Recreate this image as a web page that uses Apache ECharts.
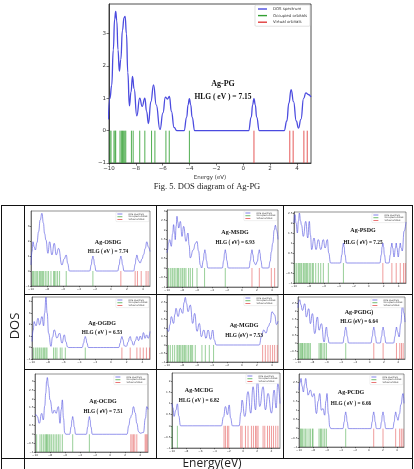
<!DOCTYPE html>
<html>
<head>
<meta charset="utf-8">
<script src="https://cdn.jsdelivr.net/npm/echarts@6/dist/echarts.min.js"></script>
<style>
html, body { margin: 0; padding: 0; background: #fff; }
#chart { width: 414px; height: 469px; }
</style>
</head>
<body>
<div id="chart"></div>
<script>
// labels
var panelNames = ['Ag-PG', 'Ag-OSDG', 'Ag-MSDG', 'Ag-PSDG', 'Ag-OGDG', 'Ag-MGDG', 'Ag-PGDG)', 'Ag-OCDG', 'Ag-MCDG', 'Ag-PCDG'];
var hlgLabels = ['HLG ( eV ) = 7.15', 'HLG ( eV ) = 7.74', 'HLG ( eV) = 6.93', 'HLG ( eV) = 7.25', 'HLG ( eV ) = 6.53',
    'HLG (eV) = 7.53', 'HLG (eV) = 6.64', 'HLG ( eV) = 7.51', 'HLG ( eV ) = 6.82', 'HLG ( eV ) = 6.66'];
var legendNames = ['DOS spectrum', 'Occupied orbitals', 'Virtual orbitals'];
var figCaption = 'Fig. 5. DOS diagram of Ag-PG';

// Ag-PG (big chart)
var dosPG = [[-10.05,0.35],[-9.93,1.0],[-9.8,1.4],[-9.68,2.5],[-9.58,3.45],[-9.5,3.69],[-9.42,3.4],[-9.33,2.5],[-9.23,1.84],[-9.12,2.2],[-9.0,3.1],[-8.88,3.5],[-8.8,3.54],[-8.7,3.0],[-8.6,1.8],[-8.48,0.77],[-8.36,1.2],[-8.25,1.68],[-8.13,1.3],[-7.93,0.46],[-7.71,1.01],[-7.53,0.75],[-7.33,1.01],[-7.2,0.6],[-7.06,0.22],[-6.88,0.9],[-6.68,1.42],[-6.48,0.8],[-6.2,0.03],[-5.98,0.55],[-5.8,1.04],[-5.65,0.98],[-5.5,1.06],[-5.35,0.6],[-5.15,0.1],[-4.95,0],
    [-4.41,0],[-4.21,0.42],[-4.11,0.8],[-4.01,0.99],[-3.91,0.8],[-3.81,0.42],[-3.61,0],
    [0.4,0],[0.6,0.42],[0.7,0.8],[0.8,0.99],[0.9,0.8],[1.0,0.42],[1.2,0],
    [3.05,0],[3.25,0.3],[3.4,0.85],[3.57,1.27],[3.75,0.9],[3.95,0.3],[4.12,0.08],[4.3,0.35],[4.5,1.0],[4.67,1.17],[4.85,1.12],[5.05,1.04]];
var occPG = [-9.93,-9.85,-9.63,-9.55,-9.5,-9.18,-9.08,-9.0,-8.93,-8.83,-8.75,-8.33,-8.2,-7.71,-7.33,-6.83,-6.58,-5.76,-5.51,-4.01];
var virPG = [0.8,3.47,3.72,4.52,4.77];

// Ag-OSDG
var dosOSDG = [[-10,0.4],[-9.87,1.3],[-9.75,1.95],[-9.6,1.6],[-9.46,1.4],[-9.25,1.9],[-9.05,2.62],[-8.85,3.4],[-8.63,3.85],[-8.45,3.2],[-8.3,2.5],[-8.13,2.07],[-7.88,1.18],[-7.67,1.95],[-7.38,1.07],[-7.09,1.85],[-6.84,1.07],[-6.55,1.51],[-6.13,0.4],[-5.85,0.8],[-5.59,1.07],[-5.4,0.5],[-5.2,0],
    [-2.65,0],[-2.45,0.42],[-2.35,0.8],[-2.25,1.0],[-2.15,0.8],[-2.05,0.42],[-1.85,0],
    [0.85,0],[1.05,0.42],[1.15,0.8],[1.25,1.0],[1.35,0.8],[1.45,0.42],[1.65,0],
    [2.85,0],[3.05,0.45],[3.15,0.85],[3.25,1.07],[3.45,0.7],[3.66,0.53],[3.9,0.8],[4.1,1.1],[4.3,1.5],[4.5,1.95],[4.7,1.6],[4.9,1.3]];
var occOSDG = [-9.8,-9.67,-9.5,-9.34,-9.17,-8.96,-8.84,-8.71,-8.55,-8.42,-8.21,-8.0,-7.8,-7.5,-7.17,-7.05,-6.88,-6.67,-6.42,-5.59,-2.25];
var virOSDG = [1.25,3.04,3.33,3.8,4.41,4.66];

// Ag-MSDG
var dosMSDG = [[-10,0.8],[-9.92,0.96],[-9.8,1.3],[-9.65,1.49],[-9.43,1.14],[-9.25,1.8],[-9.12,2.28],[-9.0,1.9],[-8.9,1.49],[-8.78,2.2],[-8.67,2.72],[-8.55,2.4],[-8.45,2.1],[-8.22,2.45],[-8.0,1.66],[-7.78,2.19],[-7.47,1.4],[-7.2,1.84],[-7.05,1.2],[-6.9,0.53],[-6.5,0.95],[-6.2,1.3],[-6.0,1.4],[-5.8,0.9],[-5.55,0.15],[-5.38,0],
    [-5.15,0.4],[-5.05,0.77],[-4.95,0.96],[-4.85,0.77],[-4.75,0.4],[-4.55,0],
    [-2.63,0],[-2.43,0.4],[-2.33,0.77],[-2.23,0.96],[-2.13,0.77],[-2.03,0.4],[-1.83,0],
    [0.93,0],[1.13,0.4],[1.23,0.77],[1.33,0.96],[1.45,0.7],[1.6,0.3],[1.82,0.17],[2.05,0.35],[2.2,0.77],[2.31,0.96],[2.41,0.77],[2.51,0.4],[2.71,0],
    [3.55,0],[3.75,0.35],[3.91,0.85],[4.1,1.3],[4.3,2.0],[4.45,2.25],[4.6,2.0],[4.8,1.5]];
var occMSDG = [-9.79,-9.56,-9.33,-9.2,-8.98,-8.8,-8.59,-8.45,-8.23,-8.0,-7.87,-7.65,-7.47,-7.12,-6.89,-6.59,-6.0,-4.99,-2.23];
var virMSDG = [1.33,2.31,3.91,4.35];

// Ag-PSDG
var dosPSDG = [[-10,2.0],[-9.87,2.42],[-9.72,2.0],[-9.55,1.5],[-9.4,2.1],[-9.28,2.5],[-9.12,2.1],[-9.0,1.9],[-8.75,1.33],[-8.43,2.08],[-8.16,1.25],[-7.95,2.08],[-7.8,1.4],[-7.63,0.67],[-7.32,1.25],[-7.05,0.67],[-6.74,1.17],[-6.42,0.67],[-6.07,1.17],[-5.84,0.75],[-5.53,1.17],[-5.35,0.5],[-5.1,0],
    [-3.78,0],[-3.58,0.42],[-3.48,0.8],[-3.38,1.0],[-3.28,0.8],[-3.18,0.42],[-2.98,0],
    [1.5,0],[1.7,0.42],[1.8,0.8],[1.9,1.0],[2.0,0.8],[2.1,0.42],[2.3,0],
    [2.71,0],[2.91,0.42],[3.01,0.8],[3.11,1.0],[3.21,0.75],[3.4,0.3],[3.59,0.75],[3.69,1.0],[3.79,0.75],[3.96,0.3],[4.13,0.75],[4.23,1.0],[4.35,0.75],[4.5,0.6],[4.75,1.6],[5.0,2.05]];
var occPSDG = [-9.87,-9.64,-9.42,-9.28,-9.1,-8.97,-8.75,-8.62,-8.43,-8.3,-8.16,-7.95,-7.76,-7.54,-7.41,-7.09,-6.74,-6.42,-6.07,-5.4,-3.38];
var virPSDG = [1.9,3.11,3.69,4.23,4.67,4.9];

// Ag-OGDG
var dosOGDG = [[-10,0.52],[-9.85,1.5],[-9.72,2.26],[-9.6,2.05],[-9.49,1.89],[-9.24,2.55],[-9.04,1.97],[-8.73,2.7],[-8.53,1.89],[-8.4,3.0],[-8.23,4.38],[-8.08,3.0],[-7.9,1.25],[-7.6,0.1],[-7.4,0.9],[-7.18,1.54],[-6.84,0.82],[-6.51,1.25],[-6.2,0.38],[-5.91,1.1],[-5.7,0.5],[-5.5,0.05],[-5.35,0],
    [-3.65,0],[-3.45,0.4],[-3.35,0.77],[-3.25,0.96],[-3.15,0.77],[-3.05,0.4],[-2.85,0],
    [0.99,0],[1.19,0.4],[1.29,0.77],[1.39,0.96],[1.5,0.7],[1.7,0.15],[1.95,0.1],[2.2,0.5],[2.34,0.85],[2.44,0.96],[2.6,0.6],[2.86,0.2],[3.1,0.6],[3.29,0.96],[3.5,0.6],[3.72,1.0],[3.92,0.7],[4.12,1.3],[4.32,0.8],[4.52,1.1],[4.72,0.8],[4.95,1.4]];
var occOGDG = [-9.8,-9.58,-9.37,-9.24,-9.04,-8.86,-8.73,-8.53,-8.4,-8.23,-8.1,-7.27,-7.05,-6.84,-6.42,-6.2,-5.78,-3.25];
var virOGDG = [1.39,2.44,3.29,3.7,4.1,4.5,4.9];

// Ag-MGDG
var dosMGDG = [[-10,0.98],[-9.79,0.8],[-9.6,1.2],[-9.43,1.67],[-9.12,1.27],[-8.95,1.8],[-8.8,2.16],[-8.53,1.67],[-8.23,2.16],[-7.91,1.86],[-7.72,2.5],[-7.56,2.8],[-7.4,2.45],[-7.2,1.96],[-6.89,2.35],[-6.58,1.27],[-6.31,1.86],[-6.0,0.8],[-5.69,1.27],[-5.42,0.49],[-5.1,0.88],[-4.8,0.39],[-4.52,0.88],[-4.2,0.33],[-3.9,0.88],[-3.7,0.3],[-3.45,0],
    [2.3,0],[2.6,0.5],[2.89,0.88],[3.2,0.7],[3.5,1.08],[3.75,1.3],[4.0,1.96],[4.2,1.85],[4.35,1.76],[4.6,1.2],[4.8,1.4]];
var occMGDG = [-9.79,-9.56,-9.25,-8.98,-8.67,-8.54,-8.36,-8.23,-8.0,-7.87,-7.69,-7.56,-7.34,-7.12,-6.89,-6.76,-6.58,-6.23,-5.34,-4.89,-4.36,-3.79];
var virMGDG = [2.75,3.11,3.46,3.77,4.08,4.35,4.7];

// Ag-PGDG
var dosPGDG = [[-10,2.2],[-9.88,2.6],[-9.76,2.71],[-9.6,2.4],[-9.38,2.04],[-9.06,2.46],[-8.83,1.63],[-8.5,2.15],[-8.27,1.21],[-7.99,1.84],[-7.66,0.59],[-7.29,1.63],[-7.06,0.8],[-6.73,1.21],[-6.36,0.06],[-6.03,1.0],[-5.85,0.4],[-5.65,0],
    [-3.73,0],[-3.53,0.42],[-3.43,0.8],[-3.33,1.0],[-3.23,0.8],[-3.13,0.42],[-2.93,0],
    [0.19,0],[0.39,0.42],[0.49,0.8],[0.59,1.0],[0.69,0.8],[0.79,0.42],[0.99,0],
    [1.49,0],[1.69,0.42],[1.79,0.8],[1.89,1.0],[1.99,0.8],[2.09,0.42],[2.29,0],
    [3.36,0],[3.56,0.42],[3.66,0.8],[3.76,1.0],[3.9,0.7],[4.13,0.38],[4.35,1.2],[4.6,2.36],[4.78,1.9],[4.95,1.31]];
var occPGDG = [-9.86,-9.67,-9.53,-9.39,-9.3,-9.1,-8.92,-8.74,-8.6,-8.46,-8.27,-7.06,-6.87,-6.73,-6.5,-6.27,-6.03,-3.33];
var virPGDG = [0.59,1.89,3.76,4.22,4.46,4.69];

// Ag-OCDG
var dosOCDG = [[-10,1.09],[-9.85,1.1],[-9.69,1.0],[-9.43,0.62],[-9.11,1.18],[-8.89,0.81],[-8.7,1.6],[-8.57,2.31],[-8.45,3.0],[-8.36,3.2],[-8.2,2.7],[-8.0,1.94],[-7.64,1.18],[-7.42,1.37],[-7.2,1.18],[-6.89,1.56],[-6.67,0.62],[-6.5,1.4],[-6.36,1.94],[-6.2,0.9],[-6.05,0.1],[-5.9,0],
    [-5.38,0],[-5.18,0.42],[-5.08,0.8],[-4.98,1.0],[-4.88,0.8],[-4.78,0.42],[-4.58,0],
    [-3.16,0],[-2.96,0.42],[-2.86,0.8],[-2.76,1.0],[-2.66,0.8],[-2.56,0.42],[-2.36,0],
    [2.25,0],[2.5,0.5],[2.67,0.9],[2.9,1.1],[3.11,1.56],[3.35,1.2],[3.56,0.62],[3.8,0.15],[4.0,0.06],[4.44,0.1],[4.7,0.9],[4.89,1.56],[5.05,1.4]];
var occOCDG = [-9.78,-9.33,-9.11,-8.89,-8.67,-8.53,-8.44,-8.31,-8.13,-8.0,-7.78,-7.56,-7.33,-7.11,-6.89,-6.67,-6.36,-4.98,-2.76];
var virOCDG = [2.76,2.93,3.11,3.29,3.56,4.67,4.8,4.93];

// Ag-MCDG
var dosMCDG = [[-10,1.0],[-9.85,0.8],[-9.72,0.42],[-9.45,0.7],[-9.24,0.99],[-9.05,0.45],[-8.8,0],[-3.05,0],[-2.75,0.4],[-2.48,0.87],[-2.2,0.5],[-1.95,0.94],[-1.75,0.35],[-1.5,0],[-0.55,0],[-0.3,0.6],[-0.14,1.16],[0.24,0.42],[0.7,1.54],[1.08,0.57],[1.41,1.76],[1.75,0.72],[2.03,2.06],[2.35,0.87],[2.82,1.76],[3.15,0.72],[3.52,1.46],[4.0,0.57],[4.37,1.61],[4.65,0.8],[4.9,1.9],[5.2,1.0]];
var occMCDG = [-10.0,-9.24];
var virMCDG = [-2.68,-2.48,-2.2,-2.01,-0.32,-0.14,0.34,0.7,1.18,1.46,1.75,1.93,2.11,2.82,3.06,3.44,3.72,4.0,4.28,4.6,4.9];

// Ag-PCDG
var dosPCDG = [[-10,2.1],[-9.85,2.5],[-9.71,2.73],[-9.55,2.3],[-9.38,1.99],[-9.2,2.4],[-9.04,2.73],[-8.85,2.2],[-8.71,1.82],[-8.37,2.1],[-8.09,1.73],[-7.86,1.91],[-7.51,0.82],[-7.25,1.5],[-7.04,1.91],[-6.8,1.0],[-6.57,1.09],[-6.33,0.73],[-6.15,1.5],[-6.0,1.91],[-5.8,0.8],[-5.6,0.1],[-5.45,0],
    [-3.73,0],[-3.53,0.38],[-3.43,0.73],[-3.33,0.91],[-3.23,0.73],[-3.13,0.38],[-2.93,0],
    [0.27,0],[0.47,0.38],[0.57,0.73],[0.67,0.91],[0.77,0.73],[0.87,0.38],[1.07,0],
    [1.6,0],[1.8,0.38],[1.9,0.73],[2.0,0.91],[2.1,0.73],[2.2,0.38],[2.4,0],
    [3.41,0],[3.61,0.38],[3.71,0.73],[3.81,0.91],[3.95,0.65],[4.14,0.45],[4.35,0.8],[4.55,1.3],[4.86,1.91],[5.0,1.37]];
var occPCDG = [-9.8,-9.66,-9.51,-9.29,-9.09,-8.86,-8.57,-8.37,-8.09,-8.0,-7.14,-6.94,-6.8,-6.57,-6.33,-6.09,-3.33];
var virPCDG = [0.67,2.0,3.81,4.38,4.62,4.86];

var dosList = [dosPG, dosOSDG, dosMSDG, dosPSDG, dosOGDG, dosMGDG, dosPGDG, dosOCDG, dosMCDG, dosPCDG];
var occList = [occPG, occOSDG, occMSDG, occPSDG, occOGDG, occMGDG, occPGDG, occOCDG, occMCDG, occPCDG];
var virList = [virPG, virOSDG, virMSDG, virPSDG, virOGDG, virMGDG, virPGDG, virOCDG, virMCDG, virPCDG];

// layout of each plot (px) and axis ranges
var boxes = [
    {left: 109, top: 4, width: 202, height: 159, xMax: 5.05, yMax: 3.92, yStep: 1, tx: 223, ty1: 84, ty2: 97},
    {left: 31, top: 211, width: 119, height: 75, xMax: 4.9, yMax: 4.0, yStep: 1, tx: 108, ty1: 242, ty2: 252},
    {left: 167, top: 210, width: 111, height: 77, xMax: 4.8, yMax: 3.05, yStep: 0.5, tx: 235, ty1: 232, ty2: 243},
    {left: 294, top: 212, width: 112, height: 71, xMax: 5.0, yMax: 2.55, yStep: 0.5, tx: 363, ty1: 230, ty2: 243},
    {left: 32, top: 297, width: 118, height: 62, xMax: 4.95, yMax: 4.4, yStep: 1, tx: 102, ty1: 323, ty2: 333},
    {left: 167, top: 295, width: 111, height: 67, xMax: 4.8, yMax: 2.94, yStep: 0.5, tx: 244, ty1: 325, ty2: 336},
    {left: 298, top: 297, width: 107, height: 62, xMax: 4.95, yMax: 2.88, yStep: 0.5, tx: 359, ty1: 312, ty2: 322},
    {left: 35, top: 374, width: 113, height: 78, xMax: 5.05, yMax: 3.4, yStep: 0.5, tx: 103, ty1: 401, ty2: 412},
    {left: 172, top: 373, width: 108, height: 75, xMax: 5.2, yMax: 2.38, yStep: 0.5, tx: 199, ty1: 390, ty2: 401},
    {left: 299, top: 374, width: 105, height: 73, xMax: 5.0, yMax: 2.97, yStep: 0.5, tx: 351, ty1: 392, ty2: 404}
];

var BLUE = '#4b4bdf';
var GREEN = '#33a033';
var RED = '#e03c3c';

function orbitalRender(color, w) {
    return function(params, api) {
        var e = api.value(0);
        var a = api.coord([e, -1]);
        var b = api.coord([e, 0]);
        return {
            type: 'line',
            shape: {x1: a[0], y1: a[1], x2: b[0], y2: b[1]},
            style: {stroke: color, lineWidth: w, opacity: 0.85}
        };
    };
}

var grids = [], xAxes = [], yAxes = [], series = [], legends = [], graphics = [];

for (var i = 0; i < boxes.length; i++) {
    var b = boxes[i];
    var big = (i === 0);
    var fs = big ? 5.5 : 2.8;
    grids.push({
        left: b.left, top: b.top, width: b.width, height: b.height,
        show: true, borderColor: '#222', borderWidth: big ? 0.8 : 0.5, backgroundColor: '#fff'
    });
    xAxes.push({
        gridIndex: i, type: 'value', min: -10, max: b.xMax, interval: 2,
        name: big ? 'Energy (eV)' : '', nameLocation: 'middle', nameGap: 12,
        nameTextStyle: {fontSize: 5.5, color: '#333', fontFamily: 'DejaVu Sans'},
        axisLine: {onZero: false, lineStyle: {color: '#222', width: big ? 0.8 : 0.5}},
        axisTick: {length: big ? 2.5 : 1.2, lineStyle: {color: '#222', width: 0.6}},
        axisLabel: {fontSize: fs, color: '#333', margin: big ? 3 : 1.5, showMaxLabel: false, fontFamily: 'DejaVu Sans',
            formatter: function(v) { return String(v).replace('-', '\u2212'); }},
        splitLine: {show: false}
    });
    yAxes.push({
        gridIndex: i, type: 'value', min: -1, max: b.yMax, interval: b.yStep,
        axisLine: {show: true, onZero: false, lineStyle: {color: '#222', width: big ? 0.8 : 0.5}},
        axisTick: {show: true, length: big ? 2.5 : 1.2, lineStyle: {color: '#222', width: 0.6}},
        axisLabel: {fontSize: fs, color: '#333', margin: big ? 3 : 1.5, showMaxLabel: false, fontFamily: 'DejaVu Sans',
            formatter: function(v) {
                var s = (Math.round(v * 10) / 10).toString();
                return s.replace('-', '\u2212');
            }},
        splitLine: {show: false}
    });
    series.push({
        type: 'line', name: legendNames[0], xAxisIndex: i, yAxisIndex: i,
        data: dosList[i], smooth: 0.5, smoothMonotone: 'x', showSymbol: false, clip: true,
        lineStyle: {color: BLUE, width: big ? 1.3 : 0.8, opacity: big ? 1 : 0.75},
        itemStyle: {color: BLUE}, z: 3
    });
    series.push({
        type: 'custom', name: legendNames[1], xAxisIndex: i, yAxisIndex: i,
        data: occList[i].map(function(e) { return [e, 0]; }),
        renderItem: orbitalRender(GREEN, big ? 1 : 0.6), itemStyle: {color: GREEN}, z: 2
    });
    series.push({
        type: 'custom', name: legendNames[2], xAxisIndex: i, yAxisIndex: i,
        data: virList[i].map(function(e) { return [e, 0]; }),
        renderItem: orbitalRender(RED, big ? 1 : 0.6), itemStyle: {color: RED}, z: 2
    });
    legends.push({
        data: legendNames.map(function(n) { return {name: n, icon: 'rect'}; }),
        orient: 'vertical', selectedMode: false,
        right: 414 - (b.left + b.width) + 1,
        top: b.top + 1,
        itemWidth: big ? 9 : 5, itemHeight: big ? 1.4 : 0.7, itemGap: big ? 2.6 : 0.8,
        padding: big ? [2, 3, 2, 3] : [1, 1.5, 1, 1.5],
        borderColor: '#ccc', borderWidth: big ? 0.6 : 0.3, borderRadius: 1, backgroundColor: '#fff',
        textStyle: {fontSize: big ? 3.9 : 2.2, color: '#333', padding: [0, 0, 0, 1], fontFamily: 'DejaVu Sans'}
    });
    graphics.push({
        type: 'text', x: b.tx, y: b.ty1, z: 10,
        style: {text: panelNames[i], font: 'bold ' + (big ? 8 : 6) + 'px "Liberation Serif"', fill: '#111',
            textAlign: 'center', textVerticalAlign: 'middle'}
    });
    graphics.push({
        type: 'text', x: b.tx, y: b.ty2, z: 10,
        style: {text: hlgLabels[i], font: 'bold ' + (big ? 7.5 : 5.3) + 'px "Liberation Serif"', fill: '#111',
            textAlign: 'center', textVerticalAlign: 'middle'}
    });
}

// table frame of lower figure
function hline(y, x1, x2) {
    graphics.push({type: 'line', shape: {x1: x1, y1: y, x2: x2, y2: y}, style: {stroke: '#111', lineWidth: 1}, z: 5});
}
function vline(x, y1, y2) {
    graphics.push({type: 'line', shape: {x1: x, y1: y1, x2: x, y2: y2}, style: {stroke: '#111', lineWidth: 1}, z: 5});
}
hline(205.5, 1, 413);
hline(458.5, 1, 413);
hline(294.5, 24, 413);
hline(369.5, 24, 413);
vline(1.5, 205, 469);
vline(412.5, 205, 469);
vline(24.5, 205, 469);
vline(156.5, 205, 458);
vline(283.5, 205, 458);

graphics.push({
    type: 'text', x: 207, y: 187,
    style: {text: figCaption, font: '8.5px "Liberation Serif"', fill: '#222', textAlign: 'center', textVerticalAlign: 'middle'}
});
graphics.push({
    type: 'text', x: 15, y: 326, rotation: Math.PI / 2,
    style: {text: 'DOS', font: '13px "Open Sans"', fill: '#222', textAlign: 'center', textVerticalAlign: 'middle'}
});
graphics.push({
    type: 'text', x: 212, y: 464,
    style: {text: 'Energy(eV)', font: '12px "Open Sans"', fill: '#222', textAlign: 'center', textVerticalAlign: 'middle'}
});

var chart = echarts.init(document.getElementById('chart'), null, {renderer: 'canvas'});
chart.setOption({
    animation: false,
    backgroundColor: '#fff',
    grid: grids,
    xAxis: xAxes,
    yAxis: yAxes,
    legend: legends,
    series: series,
    graphic: graphics
});
</script>
</body>
</html>
